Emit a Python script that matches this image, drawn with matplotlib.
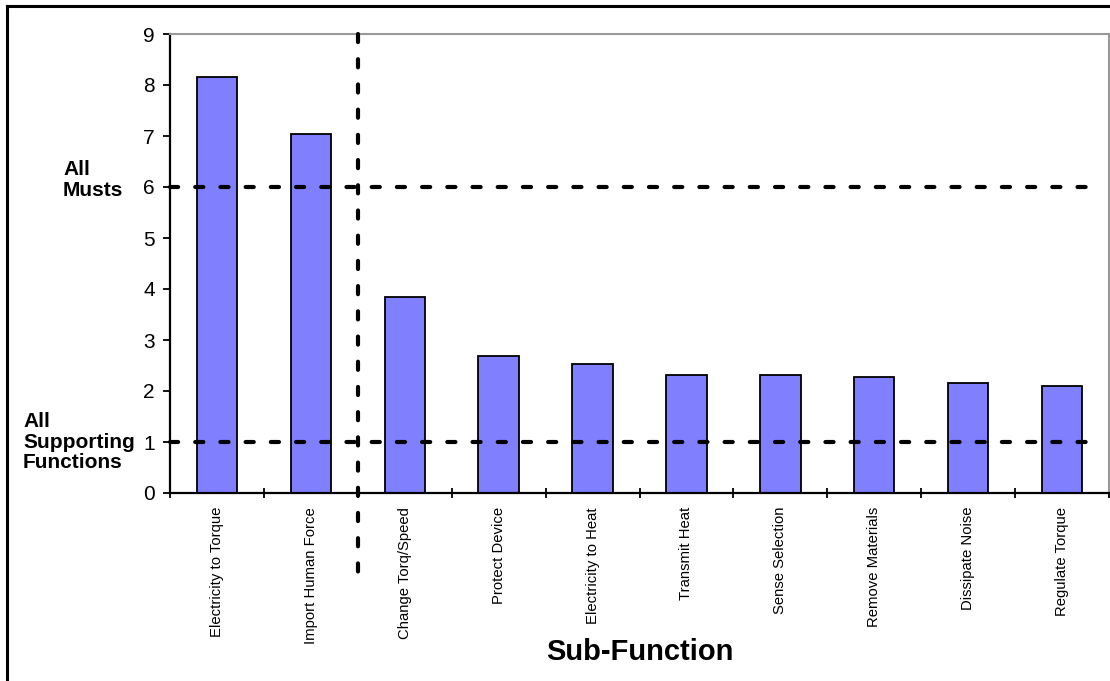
import matplotlib
matplotlib.use("Agg")
import matplotlib.pyplot as plt
from matplotlib.lines import Line2D
import numpy as np

plt.rcParams["font.family"] = ["Liberation Sans", "DejaVu Sans"]

sub_functions = [
    "Electricity to Torque", "Import Human Force", "Change Torq/Speed",
    "Protect Device", "Electricity to Heat", "Transmit Heat",
    "Sense Selection", "Remove Materials", "Dissipate Noise", "Regulate Torque",
]
scores = [8.16, 7.03, 3.85, 2.69, 2.53, 2.31, 2.31, 2.27, 2.15, 2.10]
musts_level = 6
supporting_level = 1
split_after = 1.5  # between the two musts and the rest

fig = plt.figure(figsize=(11.1, 6.81), dpi=100)
W, H = 1110, 681
ax = fig.add_axes([170 / W, 1 - 493 / H, 939 / W, 459 / H])

x = np.arange(len(sub_functions))
ax.bar(x, scores, width=0.43, color="#8080FF", edgecolor="black", linewidth=1.3, zorder=2)

dash_kw = dict(color="black", linewidth=3.0, dash_capstyle="round", dashes=(1.95, 4.1), zorder=3)
for lvl in (musts_level, supporting_level):
    ax.plot([-0.5, 9.28], [lvl, lvl], clip_on=False, **dash_kw)
ax.plot([split_after, split_after], [9, -1.67], clip_on=False, **dash_kw)

ax.set_xlim(-0.5, len(sub_functions) - 0.5)
ax.set_ylim(0, 9)
ax.set_yticks(range(0, 10))
ax.tick_params(axis="y", labelsize=15, length=5, width=1.3, pad=6, direction="out")

ax.set_xticks(x)
ax.set_xticklabels(sub_functions, rotation=90, fontsize=10.7, va="top")
ax.tick_params(axis="x", which="major", length=0, pad=10)
ax.set_xticks(np.arange(-0.5, len(sub_functions)), minor=True)
ax.tick_params(axis="x", which="minor", length=7, width=1.3, direction="inout")

for side in ("left", "bottom"):
    ax.spines[side].set_linewidth(1.6)
for side in ("top", "right"):
    ax.spines[side].set_color("#999999")
    ax.spines[side].set_linewidth(1.5)

fig.text(639.5 / W, 1 - 652 / H, "Sub-Function", fontsize=21, fontweight="bold",
         ha="center", va="center")
fig.text(63 / W, 1 - 180 / H, "All\nMusts", fontsize=15, fontweight="bold",
         ha="left", va="center", linespacing=1.1)
fig.text(23 / W, 1 - 442 / H, "All\nSupporting\nFunctions", fontsize=15, fontweight="bold",
         ha="left", va="center", linespacing=1.1)

# outer chart border (only top and left visible)
fig.add_artist(Line2D([7 / W, 1], [1 - 6 / H, 1 - 6 / H], color="black", linewidth=2.2))
fig.add_artist(Line2D([7 / W, 7 / W], [0, 1 - 6 / H], color="black", linewidth=2.2))

fig.savefig("out.png", dpi=100)
